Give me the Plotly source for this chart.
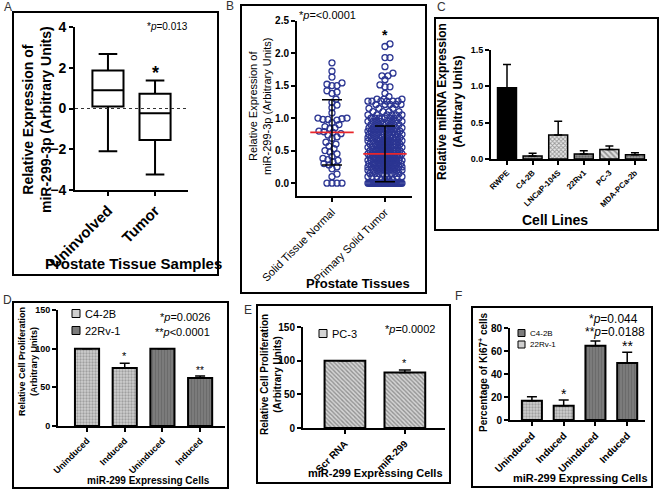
import math
import plotly.graph_objects as go

W, H = 659, 493
FONT = "Liberation Sans, Arial, sans-serif"

# ---------------- data ----------------
# A: box plot stats
a_categories = ["Uninvolved", "Tumor"]
a_upper = [2.67, 1.38]
a_q3 = [1.87, 0.72]
a_median = [0.89, -0.23]
a_q1 = [0.10, -1.54]
a_lower = [-2.10, -3.24]

# B: scatter
b_categories = ["Solid Tissue Normal", "Primary Solid Tumor"]
b_normal = [1.85, 1.72, 1.63, 1.54, 1.52, 1.50, 1.50, 1.42, 1.40, 1.38, 1.29, 1.24,
            1.20, 1.16, 1.08, 1.00, 1.00, 0.99, 0.98, 0.98, 0.97, 0.93, 0.90, 0.87,
            0.85, 0.84, 0.80, 0.79, 0.78, 0.76, 0.74, 0.71, 0.69, 0.63, 0.60, 0.57,
            0.53, 0.50, 0.48, 0.45, 0.41, 0.38, 0.36, 0.35, 0.33, 0.30, 0.28, 0.25,
            0.22, 0.14, 0.10, 0.0, 0.0, 0.0, 0.0]
b_tumor_levels = [0.00, 0.05, 0.10, 0.15, 0.20, 0.25, 0.30, 0.35, 0.40, 0.45, 0.50,
                  0.55, 0.60, 0.65, 0.70, 0.75, 0.80, 0.85, 0.90, 0.95, 1.00, 1.05,
                  1.10, 1.15, 1.21, 1.26, 1.29, 1.33, 1.38, 1.48, 1.51, 1.59, 1.65,
                  1.69, 1.79, 1.93, 2.10, 2.14]
b_tumor_counts = [40, 4, 6, 8, 10, 12, 14, 14, 14, 14, 14, 12, 12, 12, 10, 10, 10, 9,
                  8, 8, 8, 6, 4, 3, 5, 6, 3, 1, 1, 2, 1, 1, 2, 1, 1, 2, 1, 1]
b_means = [0.78, 0.45]
b_sds = [0.50, 0.43]

# C: cell lines
c_lines = ["RWPE", "C4-2B", "LNCaP-104S", "22Rv1", "PC-3", "MDA-PCa-2b"]
c_values = [0.98, 0.04, 0.33, 0.07, 0.13, 0.06]
c_errors = [0.32, 0.04, 0.19, 0.045, 0.05, 0.025]

# D: proliferation
d_groups = ["C4-2B", "22Rv-1"]
d_conditions = ["Uninduced", "Induced", "Uninduced", "Induced"]
d_c42b = [100, 75]
d_c42b_err = [0, 6]
d_22rv1 = [100, 62]
d_22rv1_err = [0, 2.5]

# E: PC-3
e_group = "PC-3"
e_labels = ["Scr RNA", "miR-299"]
e_values = [100, 82.5]
e_err = [0, 3.5]

# F: Ki67
f_groups = ["C4-2B", "22Rv-1"]
f_conditions = ["Uninduced", "Induced", "Uninduced", "Induced"]
f_22rv1 = [16.8, 12.5]
f_22rv1_err = [3.5, 5.0]
f_c42b = [64.6, 49.5]
f_c42b_err = [4.1, 9.5]


# ---------------- helpers ----------------
def X(px):
    return px / W


def Y(py):
    return 1 - py / H


def swarm(values, center, xscale, yscale, diam, maxhalf):
    cands = [0.0]
    k = 1
    while k <= maxhalf:
        cands += [k, -k]
        k += 1
    order = sorted(range(len(values)), key=lambda i: values[i])
    placed = []
    xs = [0.0] * len(values)
    for i in order:
        y = values[i] * yscale
        best, bestd = 0.0, -1.0
        for off in cands:
            mind = float("inf")
            for (px, py) in reversed(placed):
                if y - py >= diam:
                    break
                d = math.hypot(off - px, y - py)
                if d < mind:
                    mind = d
            if mind >= diam:
                best = off
                break
            if mind > bestd:
                bestd, best = mind, off
        placed.append((best, y))
        xs[i] = center + best / xscale
    return xs


fig = go.Figure()

# ---- A: box plot ----
fig.add_trace(go.Box(x=list(range(len(a_categories))), q1=a_q1, median=a_median, q3=a_q3,
                     lowerfence=a_lower, upperfence=a_upper, width=0.66, whiskerwidth=0.6,
                     fillcolor="white", line=dict(color="black", width=2),
                     boxpoints=False, xaxis="x", yaxis="y", showlegend=False,
                     hoverinfo="skip"))

# ---- B: column scatter ----
NAVY = "#2b3592"
b_tumor = []
for lv, c in zip(b_tumor_levels, b_tumor_counts):
    b_tumor += [lv] * c
bx_n = swarm(b_normal, 0, 53.0, 65.0, 4.8, 15)
bx_t = swarm(b_tumor, 1, 53.0, 65.0, 4.8, 17)
fig.add_trace(go.Scatter(x=bx_n + bx_t, y=b_normal + b_tumor, mode="markers",
                         marker=dict(symbol="circle-open", size=6, color=NAVY,
                                     line=dict(width=1.3, color=NAVY)),
                         xaxis="x2", yaxis="y2", showlegend=False, hoverinfo="skip"))
for i, (m, s) in enumerate(zip(b_means, b_sds)):
    fig.add_trace(go.Scatter(x=[i - 0.41, i + 0.41], y=[m, m], mode="lines",
                             line=dict(color="#e8262b", width=1.6),
                             xaxis="x2", yaxis="y2", showlegend=False, hoverinfo="skip"))
fig.add_trace(go.Scatter(x=list(range(len(b_means))), y=b_means, mode="markers",
                         marker=dict(size=1, color="rgba(0,0,0,0)"),
                         error_y=dict(type="data", array=b_sds, color="black",
                                      thickness=1.5, width=10),
                         xaxis="x2", yaxis="y2", showlegend=False, hoverinfo="skip"))

# ---- C: bars ----
fig.add_trace(go.Bar(x=list(range(len(c_lines))), y=c_values, width=0.74,
                     marker=dict(color=["black", "#a0a0a0", "#e8e8e8", "#8c8c8c", "#e0e0e0", "#9c9c9c"],
                                 line=dict(color="black", width=1.5),
                                 pattern=dict(shape=["", ".", "x", ".", "\\", "."],
                                              fgcolor=["black", "#555", "#222", "#444", "#333", "#555"],
                                              size=[4, 3, 3, 3, 4, 3],
                                              solidity=[0.3, 0.4, 0.5, 0.4, 0.45, 0.4],
                                              fillmode="overlay")),
                     error_y=dict(type="data", symmetric=False, array=c_errors,
                                  arrayminus=[0] * len(c_errors), color="black",
                                  thickness=1.5, width=4),
                     xaxis="x3", yaxis="y3", showlegend=False, hoverinfo="skip"))

# ---- D: bars ----
LIGHT_BG, DARK_BG = "#cfcfcf", "#7c7c7c"
PAT_LIGHT = dict(color=LIGHT_BG, pattern=dict(shape=".", fgcolor="#707070", size=3,
                                              solidity=0.45, fillmode="overlay"))
PAT_DARK = dict(color=DARK_BG, pattern=dict(shape="|", fgcolor="#5a5a5a", size=3,
                                            solidity=0.4, fillmode="overlay"))
fig.add_trace(go.Bar(x=[0, 1], y=d_c42b, width=0.64, name=d_groups[0],
                     marker=dict(line=dict(color="black", width=2), **PAT_LIGHT),
                     error_y=dict(type="data", symmetric=False, array=d_c42b_err,
                                  arrayminus=[0, 0], color="black", thickness=1.5, width=5),
                     xaxis="x4", yaxis="y4", showlegend=False, hoverinfo="skip"))
fig.add_trace(go.Bar(x=[2, 3], y=d_22rv1, width=0.64, name=d_groups[1],
                     marker=dict(line=dict(color="black", width=2), **PAT_DARK),
                     error_y=dict(type="data", symmetric=False, array=d_22rv1_err,
                                  arrayminus=[0, 0], color="black", thickness=1.5, width=5),
                     xaxis="x4", yaxis="y4", showlegend=False, hoverinfo="skip"))

# ---- E: bars ----
E_BG = "#d4d4d4"
fig.add_trace(go.Bar(x=[0, 1], y=e_values, width=0.68, name=e_group,
                     marker=dict(color=E_BG, line=dict(color="black", width=2),
                                 pattern=dict(shape="\\", fgcolor="#505050", size=3,
                                              solidity=0.45, fillmode="overlay")),
                     error_y=dict(type="data", symmetric=False, array=e_err,
                                  arrayminus=[0, 0], color="black", thickness=1.5, width=6),
                     xaxis="x5", yaxis="y5", showlegend=False, hoverinfo="skip"))

# ---- F: bars ----
fig.add_trace(go.Bar(x=[0, 1], y=f_22rv1, width=0.63, name=f_groups[1],
                     marker=dict(line=dict(color="black", width=2), **PAT_LIGHT),
                     error_y=dict(type="data", symmetric=False, array=f_22rv1_err,
                                  arrayminus=[0, 0], color="black", thickness=1.5, width=5),
                     xaxis="x6", yaxis="y6", showlegend=False, hoverinfo="skip"))
fig.add_trace(go.Bar(x=[2, 3], y=f_c42b, width=0.63, name=f_groups[0],
                     marker=dict(line=dict(color="black", width=2), **PAT_DARK),
                     error_y=dict(type="data", symmetric=False, array=f_c42b_err,
                                  arrayminus=[0, 0], color="black", thickness=1.5, width=5),
                     xaxis="x6", yaxis="y6", showlegend=False, hoverinfo="skip"))


# ---------------- axes ----------------
def axis(domain, rng, tsize, bold=True, **kw):
    d = dict(domain=domain, range=rng, showline=True, linecolor="black", linewidth=2,
             ticks="outside", ticklen=4, tickwidth=2, tickcolor="black",
             showgrid=False, zeroline=False, fixedrange=True, automargin=False,
             tickfont=dict(family=FONT, size=tsize, color="black",
                           weight="bold" if bold else "normal"))
    d.update(kw)
    return d


def xdom(a, b):
    return [X(a), X(b)]


def ydom(top, bottom):
    return [Y(bottom), Y(top)]


fig.update_layout(
    width=W, height=H, margin=dict(l=0, r=0, t=0, b=0, pad=0, autoexpand=False),
    paper_bgcolor="white", plot_bgcolor="white", barmode="overlay", showlegend=False,
    font=dict(family=FONT, color="black"),
    # A
    xaxis=axis(xdom(75, 188), [-0.7, 1.7], 15, anchor="y", tickangle=-45,
               tickvals=[0, 1], ticktext=a_categories),
    yaxis=axis(ydom(27, 190), [-4, 4], 14, anchor="x", tickvals=[-4, -2, 0, 2, 4]),
    # B
    xaxis2=axis(xdom(297, 412), [-0.66, 1.51], 11, bold=False, anchor="y2", tickangle=-45,
                tickvals=[0, 1], ticktext=b_categories),
    yaxis2=axis(ydom(20.5, 195.5), [-0.19, 2.5], 10, anchor="x2",
                tickvals=[0, 0.5, 1.0, 1.5, 2.0, 2.5], tickformat=".1f"),
    # C
    xaxis3=axis(xdom(491, 647), [-0.625, 5.47], 8, anchor="y3", tickangle=-45,
                tickvals=list(range(6)), ticktext=c_lines),
    yaxis3=axis(ydom(50, 159), [0, 1.5], 9, anchor="x3",
                tickvals=[0, 0.5, 1.0, 1.5], tickformat=".1f"),
    # D
    xaxis4=axis(xdom(58, 225), [-0.77, 3.66], 9, anchor="y4", tickangle=-45,
                tickvals=[0, 1, 2, 3], ticktext=d_conditions),
    yaxis4=axis(ydom(310, 426), [0, 150], 9, anchor="x4", tickvals=[0, 50, 100, 150]),
    # E
    xaxis5=axis(xdom(303, 445), [-0.7, 1.67], 10, anchor="y5", tickangle=-45,
                tickvals=[0, 1], ticktext=e_labels),
    yaxis5=axis(ydom(327, 428), [0, 150], 10, anchor="x5", tickvals=[0, 50, 100, 150]),
    # F
    xaxis6=axis(xdom(510, 645), [-0.69, 3.56], 10, anchor="y6", tickangle=-45,
                tickvals=[0, 1, 2, 3], ticktext=f_conditions),
    yaxis6=axis(ydom(328, 420), [0, 80], 10, anchor="x6", tickvals=[0, 20, 40, 60, 80]),
)

# ---------------- panel frames & legend swatches ----------------
frames = [(13, 12, 218, 275), (241, 5, 426, 293), (435, 18, 658, 230),
          (13, 302, 228, 488), (257, 305, 450, 483), (472, 307, 652, 487)]
shapes = []
for (x0, y0, x1, y1) in frames:
    shapes.append(dict(type="rect", xref="paper", yref="paper", x0=X(x0), x1=X(x1),
                       y0=Y(y1), y1=Y(y0), line=dict(color="black", width=2),
                       fillcolor="rgba(0,0,0,0)", layer="below"))
shapes.append(dict(type="line", xref="x domain", yref="y", x0=0, x1=1, y0=0, y1=0,
                   line=dict(color="#333", width=1, dash="dot")))

# legend entries: (swatch left px, center y px, size px, fill, label, font size)
legend_items = [
    (72, 313.5, 8, LIGHT_BG, d_groups[0], 11),
    (72, 330.5, 8, DARK_BG, d_groups[1], 11),
    (319, 333.5, 8, E_BG, e_group, 11),
    (518, 333, 7, DARK_BG, f_groups[0], 8),
    (518, 344.5, 7, LIGHT_BG, f_groups[1], 8),
]
for (lx, ly, s, col, _lab, _fs) in legend_items:
    shapes.append(dict(type="rect", xref="paper", yref="paper", x0=X(lx), x1=X(lx + s),
                       y0=Y(ly + s / 2), y1=Y(ly - s / 2), fillcolor=col,
                       line=dict(color="black", width=1)))
fig.update_layout(shapes=shapes)


# ---------------- annotations ----------------
def ann(text, x, y, size, bold=False, angle=0, xanchor="center", color="black"):
    return dict(text=text, x=X(x), y=Y(y), xref="paper", yref="paper", showarrow=False,
                textangle=angle, xanchor=xanchor, yanchor="middle",
                font=dict(family=FONT, size=size, color=color,
                          weight="bold" if bold else "normal"))


def dann(text, x, y, xr, yr, size, bold=False):
    return dict(text=text, x=x, y=y, xref=xr, yref=yr, showarrow=False,
                xanchor="center", yanchor="middle",
                font=dict(family=FONT, size=size, color="black",
                          weight="bold" if bold else "normal"))


anns = [
    # panel letters
    ann("A", 8, 7, 12, color="#333"), ann("B", 230, 6, 12, color="#333"),
    ann("C", 441, 7, 12, color="#333"), ann("D", 7, 300, 12, color="#333"),
    ann("E", 248, 310, 12, color="#333"), ann("F", 458, 296, 12, color="#333"),
    # A
    ann("Relative Expression of<br>miR-299-3p (Arbitrary Units)", 37, 120, 14, True, -90),
    ann("*<i>p</i>=0.013", 167, 27, 10),
    dann("*", 1, 1.75, "x", "y", 18, True),
    ann("Prostate Tissue Samples", 133, 263, 15, True),
    # B
    ann("Relative Expression of<br>miR-299-3p (Arbitrary Units)", 260, 106, 11, False, -90),
    ann("*<i>p</i>=<0.0001", 297, 15, 11, xanchor="left"),
    dann("*", 1, 2.28, "x2", "y2", 14, True),
    ann("Prostate Tissues", 358, 283, 13, True),
    # C
    ann("Relative miRNA Expression<br>(Arbitrary Units)", 450, 102, 12, True, -90),
    ann("Cell Lines", 555, 220, 14, True),
    # D
    ann("Relative Cell Proliferation<br>(Arbitrary Units)", 28, 362, 9, True, -90),
    ann("*<i>p</i>=0.0026", 185, 317, 11),
    ann("**<i>p</i><0.0001", 182, 332, 11),
    dann("*", 1, 90, "x4", "y4", 11),
    dann("**", 3, 72, "x4", "y4", 10),
    ann("miR-299 Expressing Cells", 148, 480, 10, True),
    # E
    ann("Relative Cell Proliferation<br>(Arbitrary Units)", 271, 375, 10, True, -90),
    ann("*<i>p</i>=0.0002", 410, 329, 11),
    dann("*", 1, 97, "x5", "y5", 11),
    ann("miR-299 Expressing Cells", 375, 473, 11, True),
    # F
    ann("Percentage of Ki67<sup>+</sup> cells", 483, 372, 10, True, -90),
    ann("*<i>p</i>=0.044", 613, 319, 12),
    ann("**<i>p</i>=0.0188", 615, 332, 12),
    dann("*", 1, 23, "x6", "y6", 14),
    dann("**", 3, 64, "x6", "y6", 14),
    ann("miR-299 Expressing Cells", 580, 478, 11, True),
]
for (lx, ly, s, _col, lab, fs) in legend_items:
    anns.append(ann(lab, lx + s + 3, ly, fs, xanchor="left"))
fig.update_layout(annotations=anns)

fig.write_html("out.html", config={"displayModeBar": False, "staticPlot": True},
               post_script="document.body.style.margin='0';document.body.style.padding='0';"
                           "document.documentElement.style.overflow='hidden';")
